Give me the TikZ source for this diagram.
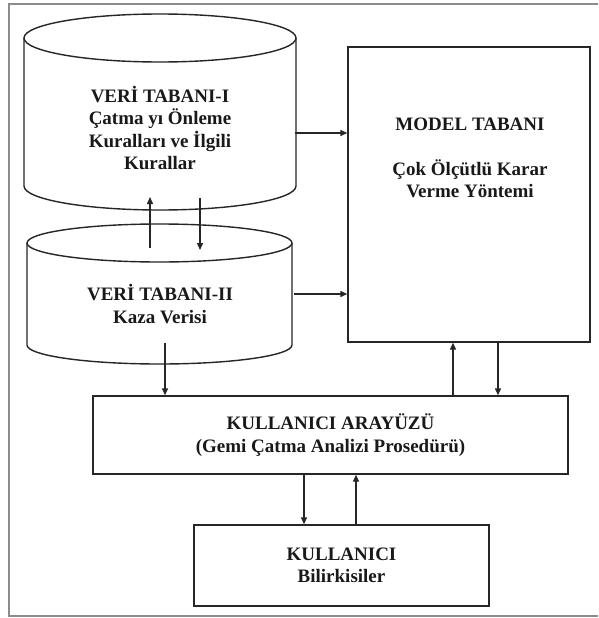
\documentclass[tikz,border=0pt]{standalone}
\usepackage{fontspec}
\setmainfont{Liberation Serif}
\usetikzlibrary{arrows.meta}
\begin{document}
\begin{tikzpicture}[x=1pt,y=-1pt,
  line/.style={draw=black!85,line width=1.4pt},
  conn/.style={draw=black!85,line width=1.4pt,-{Triangle[length=7pt,width=6pt]}},
  boxnode/.style={line,rectangle,inner sep=0pt,align=center},
  txt/.style={align=center,inner sep=0pt,font=\bfseries\fontsize{19}{22.5}\selectfont,text=black!90}]
\useasboundingbox (0,0) rectangle (598,618);
\fill[white] (0,0) rectangle (598,618);
% outer frame
\draw[draw=black!45,line width=2.5pt] (598,4) -- (9,4) -- (9,616) -- (598,616);
% cylinder I
\draw[line] (160,38) ellipse [x radius=136pt, y radius=24pt];
\draw[line] (24,38) -- (24,186) arc[start angle=180, end angle=360, x radius=136pt, y radius=24pt] -- (296,38);
\node[txt] (c1t) at (160,128) {VERİ TABANI-I\\Çatma yı Önleme\\Kuralları ve İlgili\\Kurallar};
% cylinder II
\draw[line] (159.5,243) ellipse [x radius=132.5pt, y radius=19pt];
\draw[line] (27,243) -- (27,345) arc[start angle=180, end angle=360, x radius=132.5pt, y radius=19pt] -- (292,243);
\node[txt] (c2t) at (160,304) {VERİ TABANI-II\\Kaza Verisi};
% model box
\node[boxnode,minimum width=242pt,minimum height=295pt] (mb) at (469,194.5) {};
\node[txt] (mbt) at (470,158) {MODEL TABANI\\\mbox{}\\Çok Ölçütlü Karar\\Verme Yöntemi};
% user interface
\node[boxnode,txt,line,minimum width=475pt,minimum height=78pt] (ka) at (330.5,435) {KULLANICI ARAYÜZÜ\\(Gemi Çatma Analizi Prosedürü)};
% user
\node[boxnode,txt,line,minimum width=295pt,minimum height=81pt] (ku) at (341.5,565.5) {\rule{0pt}{6pt}KULLANICI\\Bilirkisiler};
% connector end points
\coordinate (c1r) at (295,133);
\coordinate (c2r) at (294,294);
\coordinate (c2up) at (150,248);
\coordinate (c1up) at (150,197);
\coordinate (c1dn) at (200,198);
\coordinate (c2dn) at (200,250);
\coordinate (c2b) at (165,343);
% connectors
\draw[conn] (c1r) -- (mb.west |- c1r);
\draw[conn] (c2r) -- (mb.west |- c2r);
\draw[conn] (c2up) -- (c1up);
\draw[conn] (c1dn) -- (c2dn);
\draw[conn] (c2b) -- (c2b |- ka.north);
\draw[conn] (ka.north -| 453,0) -- (mb.south -| 453,0);
\draw[conn] (mb.south -| 498,0) -- (ka.north -| 498,0);
\draw[conn] (ka.south -| 304,0) -- (ku.north -| 304,0);
\draw[conn] (ku.north -| 356,0) -- (ka.south -| 356,0);
\end{tikzpicture}
\end{document}
